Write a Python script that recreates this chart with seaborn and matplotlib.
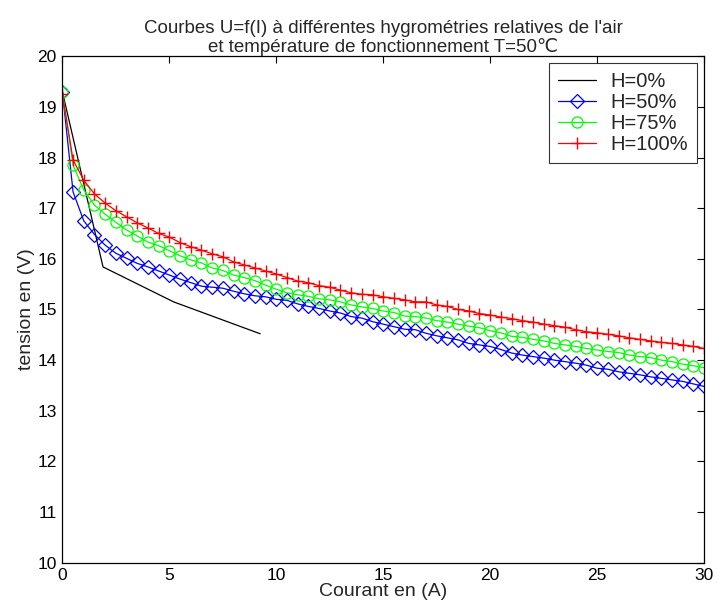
import matplotlib
matplotlib.use("Agg")
import pandas as pd
import seaborn as sns
import matplotlib.pyplot as plt

# courant (A) for the three measured series, one point every 0.5 A
courant = [0, 0.5, 1, 1.5, 2, 2.5, 3, 3.5, 4, 4.5, 5, 5.5, 6, 6.5, 7, 7.5,
           8, 8.5, 9, 9.5, 10, 10.5, 11, 11.5, 12, 12.5, 13, 13.5, 14, 14.5,
           15, 15.5, 16, 16.5, 17, 17.5, 18, 18.5, 19, 19.5, 20, 20.5, 21,
           21.5, 22, 22.5, 23, 23.5, 24, 24.5, 25, 25.5, 26, 26.5, 27, 27.5,
           28, 28.5, 29, 29.5, 30]

# H=0% only has a few points
courant_h0 = [0, 1.9, 5.2, 9.25]
tension_h0 = [19.3, 15.84, 15.15, 14.52]

tension_h50 = [19.3, 17.32, 16.75, 16.48, 16.27, 16.11, 16.01, 15.91, 15.84,
               15.76, 15.68, 15.6, 15.53, 15.46, 15.44, 15.42, 15.36, 15.31,
               15.27, 15.25, 15.2, 15.18, 15.11, 15.06, 15.02, 14.97, 14.93,
               14.86, 14.83, 14.76, 14.71, 14.66, 14.61, 14.6, 14.53, 14.48,
               14.44, 14.4, 14.33, 14.3, 14.27, 14.21, 14.14, 14.1, 14.07,
               14.04, 14.0, 13.97, 13.94, 13.9, 13.84, 13.82, 13.77, 13.74,
               13.71, 13.67, 13.64, 13.61, 13.58, 13.53, 13.48]

tension_h75 = [19.3, 17.85, 17.36, 17.06, 16.88, 16.72, 16.57, 16.45, 16.33,
               16.26, 16.16, 16.06, 15.98, 15.92, 15.82, 15.77, 15.68, 15.63,
               15.57, 15.48, 15.4, 15.33, 15.29, 15.26, 15.21, 15.19, 15.15,
               15.09, 15.05, 15.02, 14.97, 14.94, 14.87, 14.86, 14.83, 14.78,
               14.75, 14.71, 14.67, 14.64, 14.58, 14.54, 14.47, 14.45, 14.41,
               14.38, 14.33, 14.3, 14.27, 14.23, 14.2, 14.17, 14.15, 14.1,
               14.07, 14.05, 14.0, 13.97, 13.92, 13.89, 13.85]

tension_h100 = [19.25, 17.95, 17.55, 17.28, 17.1, 16.95, 16.83, 16.71, 16.61,
                16.5, 16.43, 16.32, 16.24, 16.17, 16.1, 16.04, 15.94, 15.88,
                15.82, 15.76, 15.7, 15.63, 15.56, 15.53, 15.47, 15.44, 15.38,
                15.33, 15.3, 15.29, 15.25, 15.22, 15.19, 15.15, 15.15, 15.09,
                15.06, 15.0, 14.97, 14.92, 14.89, 14.85, 14.82, 14.78, 14.75,
                14.71, 14.68, 14.65, 14.6, 14.56, 14.54, 14.51, 14.48, 14.44,
                14.41, 14.38, 14.35, 14.33, 14.3, 14.27, 14.23]

x_ticks = [0, 5, 10, 15, 20, 25, 30]
y_ticks = [10, 11, 12, 13, 14, 15, 16, 17, 18, 19, 20]

sns.set_style("white")
plt.rcParams["font.family"] = ["Liberation Sans", "DejaVu Sans"]

fig = plt.figure(figsize=(7.17, 6.11), dpi=100)
ax = fig.add_axes([0.087, 0.079, 0.895, 0.829])

series = [
    ("H=0%", courant_h0, tension_h0, "k", None, {}),
    ("H=50%", courant, tension_h50, (0, 0, 1), "D",
     dict(markersize=7, markerfacecolor="none", markeredgewidth=0.9)),
    ("H=75%", courant, tension_h75, (0, 1, 0), "o",
     dict(markersize=8, markerfacecolor="none", markeredgewidth=0.9)),
    ("H=100%", courant, tension_h100, (1, 0, 0), "+",
     dict(markersize=8.5, markeredgewidth=1.0)),
]

for label, xs, ys, color, marker, mk in series:
    df = pd.DataFrame({"courant": xs, "tension": ys})
    sns.lineplot(data=df, x="courant", y="tension", ax=ax, color=color,
                 linewidth=0.9, marker=marker, markeredgecolor=color,
                 label=label, **mk)

ax.set_xlim(0, 30)
ax.set_ylim(10, 20)
ax.set_xticks(x_ticks)
ax.set_yticks(y_ticks)
ax.tick_params(direction="in", length=5, width=0.8, top=True, right=True,
               labelsize=12.5, colors="black", pad=4)
for sp in ax.spines.values():
    sp.set_color("black")
    sp.set_linewidth(0.9)

ax.set_xlabel("Courant en (A)", fontsize=14, labelpad=0)
ax.set_ylabel("tension en (V)", fontsize=14, labelpad=2)
ax.set_title("Courbes U=f(I) à différentes hygrométries relatives de l'air\n"
             "et température de fonctionnement T=50℃", fontsize=13.5, pad=3,
             linespacing=1.05)

leg = ax.legend(loc="upper right", frameon=True, fancybox=False,
                edgecolor="black", fontsize=14.5, borderaxespad=0.35,
                numpoints=1, handlelength=1.9, labelspacing=0.1,
                borderpad=0.45, handletextpad=0.7)
leg.get_frame().set_linewidth(0.8)

fig.savefig("out.png", dpi=100)
